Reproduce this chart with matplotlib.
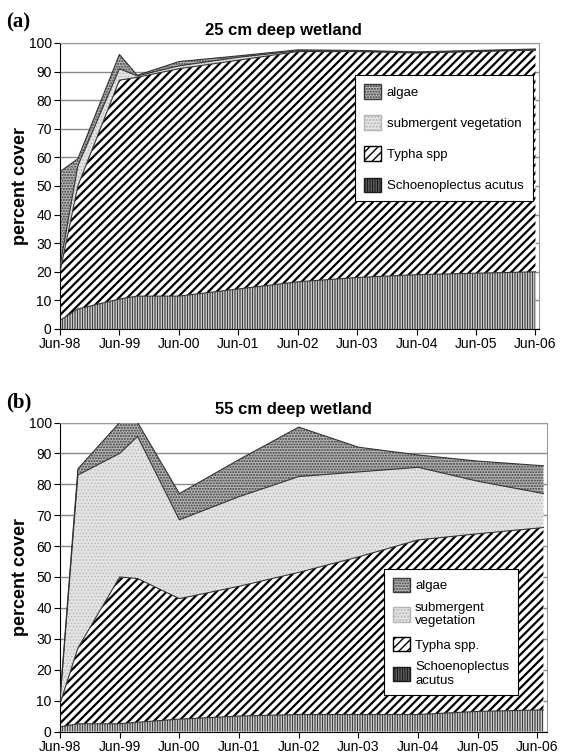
import matplotlib.pyplot as plt
import numpy as np
from matplotlib.patches import Patch

plt.rcParams['font.family'] = ['Liberation Sans', 'DejaVu Sans']

# sampling times, years since Jun-98
t_a = [0, 0.3, 1.0, 1.3, 2.0, 3.0, 4.0, 5.0, 6.0, 7.0, 8.0]
t_b = [0, 0.3, 1.0, 1.3, 2.0, 3.0, 4.0, 5.0, 6.0, 7.0, 8.1]
xlabels = ['Jun-98', 'Jun-99', 'Jun-00', 'Jun-01', 'Jun-02',
           'Jun-03', 'Jun-04', 'Jun-05', 'Jun-06']

# 25 cm wetland, cover of each layer (stacked)
schoen_a = [3, 7, 10.5, 11.5, 11.5, 14, 16.5, 18, 19, 19.5, 20]
typha_a = [17, 43, 76.5, 76.5, 79.5, 80, 80.5, 79, 77.5, 77.5, 77.5]
subm_a = [2, 7, 4, 0.5, 1, 1, 0.3, 0.2, 0.2, 0.2, 0.2]
algae_a = [33, 2.5, 5, 0.2, 1.5, 0.5, 0.3, 0.2, 0.2, 0.2, 0.2]

# 55 cm wetland
schoen_b = [1.5, 2.5, 2.5, 3, 4, 5, 5.5, 5.5, 5.5, 6.5, 7]
typha_b = [7.5, 24.5, 47.5, 46.5, 39, 42, 46, 51, 56.5, 57.5, 59]
subm_b = [1, 56, 40, 46, 25.5, 29, 31, 27.5, 23.5, 17, 11]
algae_b = [0.5, 2, 10, 4.5, 8.5, 12, 16, 8, 4, 6.5, 9]

names_a = ['algae', 'submergent vegetation', 'Typha spp', 'Schoenoplectus acutus']
names_b = ['algae', 'submergent\nvegetation', 'Typha spp.', 'Schoenoplectus\nacutus']

# face, hatch colour, hatch, hatch width  (bottom layer first)
styles = [('white', '#1a1a1a', '||||||||||', 0.6),
          ('white', 'black', '////', 1.6),
          ('#e4e4e4', '#b4b4b4', '.....', 0.6),
          ('#b8b8b8', '#3a3a3a', '......', 1.0)]


def set_hw(artist, hw):
    if hasattr(artist, 'set_hatch_linewidth'):
        artist.set_hatch_linewidth(hw)


def panel(ax, t, layers, names, title, title_x, leg_xy):
    t = np.array(t)
    bottom = np.zeros(len(t))
    for vals, (fc, hc, h, hw) in zip(layers, styles):
        top = bottom + np.array(vals)
        with plt.rc_context({'hatch.linewidth': hw}):
            coll = ax.fill_between(t, bottom, top, facecolor=fc, edgecolor=hc,
                                   hatch=h, linewidth=0, zorder=2)
        set_hw(coll, hw)
        ax.plot(t, top, color='#333333', lw=0.8, zorder=3)
        bottom = top
    ax.set_xlim(0, t[-1] + 0.06)
    ax.set_ylim(0, 100)
    ax.set_yticks(range(0, 101, 10))
    ax.set_xticks(range(9))
    ax.set_xticklabels(xlabels)
    ax.tick_params(direction='out', length=4, labelsize=10, color='black', pad=2)
    ax.set_axisbelow(True)
    ax.yaxis.grid(True, color='#8a8a8a', lw=1)
    for s in ['left', 'bottom']:
        ax.spines[s].set_color('black')
    for s in ['top', 'right']:
        ax.spines[s].set_color('#9a9a9a')
    ax.set_title(title, fontweight='bold', fontsize=12, x=title_x, pad=6)
    ax.set_ylabel('percent cover', fontweight='bold', fontsize=13)
    ax.yaxis.set_label_coords(-0.064, 0.5)
    handles = []
    for (fc, hc, h, hw), lab in zip(styles[::-1], names):
        with plt.rc_context({'hatch.linewidth': min(hw, 1.3)}):
            p = Patch(facecolor=fc, edgecolor=hc, hatch=h, label=lab)
        set_hw(p, min(hw, 1.3))
        handles.append(p)
    leg = ax.legend(handles=handles, loc='upper left',
                    bbox_to_anchor=(leg_xy[0] / 567, 1 - leg_xy[1] / 756),
                    bbox_transform=fig.transFigure, borderaxespad=0,
                    fancybox=False, framealpha=1, edgecolor='black',
                    fontsize=9.5, handlelength=1.3, handleheight=1.3,
                    handletextpad=0.4, labelspacing=leg_xy[2],
                    borderpad=leg_xy[3])
    leg.get_frame().set_linewidth(0.8)


fig = plt.figure(figsize=(5.67, 7.56), dpi=100)
ax_a = fig.add_axes([60 / 567, 1 - 329 / 756, 479 / 567, 286 / 756])
ax_b = fig.add_axes([60 / 567, 1 - 731.5 / 756, 487 / 567, 309 / 756])

panel(ax_a, t_a, [schoen_a, typha_a, subm_a, algae_a], names_a,
      '25 cm deep wetland', 0.466, (355, 75, 1.25, 0.7))
panel(ax_b, t_b, [schoen_b, typha_b, subm_b, algae_b], names_b,
      '55 cm deep wetland', 0.48, (384, 569, 0.72, 0.65))

fig.text(6 / 567, 1 - 22 / 756, '(a)', family='Liberation Serif',
         fontweight='bold', fontsize=15, va='center')
fig.text(6 / 567, 1 - 402 / 756, '(b)', family='Liberation Serif',
         fontweight='bold', fontsize=15, va='center')

fig.savefig('out.png', dpi=100)
